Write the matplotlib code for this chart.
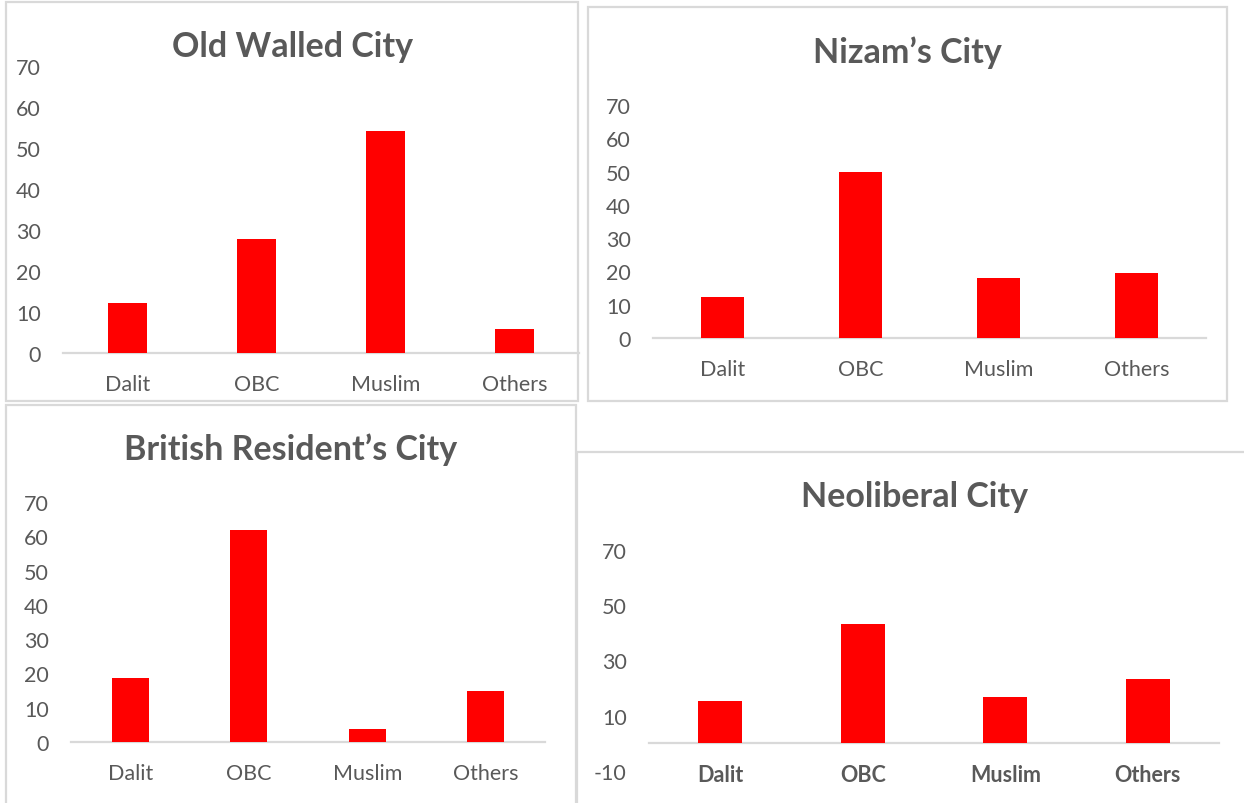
import matplotlib.pyplot as plt
from matplotlib.patches import Rectangle

plt.rcParams['font.family'] = ['Lato', 'DejaVu Sans']
plt.rcParams['axes.unicode_minus'] = False

categories = ['Dalit', 'OBC', 'Muslim', 'Others']
old_walled = [12.2, 27.7, 54.1, 5.8]
nizam = [12.3, 49.8, 18.0, 19.5]
british = [18.8, 61.7, 3.7, 14.8]
neoliberal = [15.5, 43.1, 16.7, 23.2]

W, H = 1244, 804
GREY_TEXT = '#595959'
BORDER = '#d9d9d9'

fig = plt.figure(figsize=(W / 100, H / 100), dpi=100)


def px_axes(x0, x1, y_top, y_bot):
    # pixel box (y from top) -> figure fraction axes
    return fig.add_axes([x0 / W, 1 - y_bot / H, (x1 - x0) / W, (y_bot - y_top) / H])


def border(x0, y0, x1, y1):
    fig.patches.append(Rectangle((x0 / W, 1 - y1 / H), (x1 - x0) / W, (y1 - y0) / H,
                                 transform=fig.transFigure, fill=False,
                                 edgecolor=BORDER, linewidth=1.6))


def panel(vals, title, box, plot, title_y, yticks, ylim, bold_x=False):
    border(*box)
    ax = px_axes(*plot)
    ax.bar(range(len(categories)), vals, width=0.31, color='#ff0000', zorder=3)
    ax.set_xlim(-0.5, len(categories) - 0.5)
    ax.set_ylim(*ylim)
    for s in ['top', 'right', 'left']:
        ax.spines[s].set_visible(False)
    # category axis crosses at zero, labels follow it
    ax.spines['bottom'].set_position(('data', 0))
    ax.spines['bottom'].set_color(BORDER)
    ax.spines['bottom'].set_linewidth(1.6)
    ax.set_yticks(yticks)
    ax.set_xticks(range(len(categories)))
    ax.set_xticklabels(categories, fontweight='bold' if bold_x else 'normal')
    ax.tick_params(axis='y', length=0, pad=16, labelsize=15.5, labelcolor=GREY_TEXT)
    ax.tick_params(axis='x', length=0, pad=15, labelsize=15.5, labelcolor=GREY_TEXT)
    ax.set_facecolor('none')
    cx = (box[0] + box[2]) / 2
    fig.text(cx / W, 1 - title_y / H, title, ha='center', va='center',
             fontsize=24.5, fontweight='bold', color=GREY_TEXT)
    return ax


panel(old_walled, 'Old Walled City', (6, 3, 578, 402), (63, 579, 67, 354), 47,
      range(0, 71, 10), (0, 70))
panel(nizam, 'Nizam\u2019s City', (588, 8, 1227, 402), (653, 1206, 106, 339), 53,
      range(0, 71, 10), (0, 70))
panel(british, 'British Resident\u2019s City', (6, 406, 576, 812), (71, 545, 503, 743), 450,
      range(0, 71, 10), (0, 70))
panel(neoliberal, 'Neoliberal City', (577, 453, 1252, 812), (649, 1219, 551, 772), 497,
      range(-10, 71, 20), (-10, 70), bold_x=True)

fig.savefig('out.png', dpi=100)
